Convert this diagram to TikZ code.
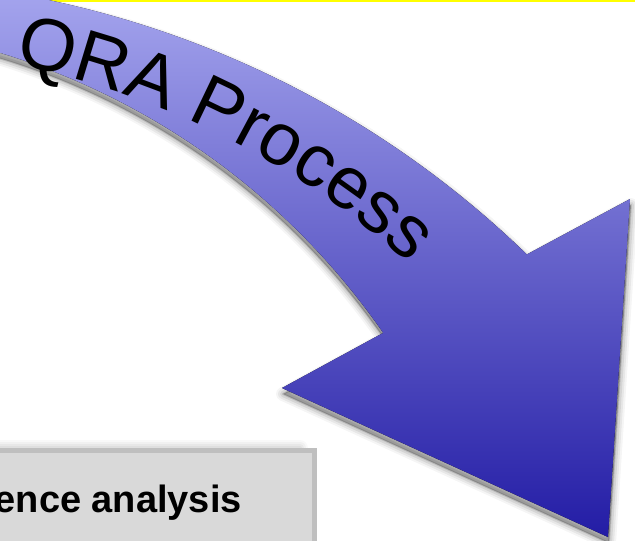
\documentclass[tikz,border=0pt]{standalone}
\usepackage{fontspec}
\setmainfont{Liberation Sans}
\newfontfamily\lsans{Liberation Sans}
\usetikzlibrary{decorations.text}
\newcommand\qraf{\lsans\fontsize{74}{80}\selectfont}
\definecolor{arrtop}{RGB}{165,165,238}
\definecolor{arrmid}{RGB}{116,116,208}
\definecolor{arrbot}{RGB}{35,28,165}
\definecolor{boxfill}{RGB}{217,217,217}
\definecolor{boxline}{RGB}{191,191,191}
\definecolor{topline}{RGB}{255,255,0}
\tikzset{
  arrowfill/.style={top color=arrtop, middle color=arrmid, bottom color=arrbot},
  softshadow/.style={fill=black, draw=black, fill opacity=#1, draw opacity=#1, line join=round},
  boxstyle/.style={draw=boxline, line width=5pt, fill=boxfill},
  boxtext/.style={anchor=base west, inner sep=0pt, font=\bfseries\fontsize{38}{40}\selectfont}
}
\begin{document}
\begin{tikzpicture}[x=1pt,y=-1pt]
\useasboundingbox (0,0) rectangle (635,541);
\clip (0,0) rectangle (635,541);
\def\arrowpath{plot[domain=-81.6:-45.9,samples=70] ({-153+977*cos(\x)},{956+977*sin(\x)}) -- (630,199) -- (608,537) -- (282,388) -- plot[domain=-73.8:-34.7,samples=70] ({-212+724*cos(-108.5-\x)},{745+724*sin(-108.5-\x)}) -- cycle}
% yellow line at the top
\fill[topline] (0,0) rectangle (635,1.6);
% box shadow
\foreach \ww/\oo in {16/0.025,12/0.03,8/0.035,4/0.04}{
  \fill[softshadow=\oo, line width=\ww pt] (-20,448) rectangle (300,560);
}
% box
\draw[boxstyle] (-10,450.5) rectangle (314.5,560);
\node[boxtext] (analysis) at (-5.5,512) {ence analysis};
% arrow shadow
\foreach \ww/\oo in {14/0.04,10/0.06,6/0.08,2/0.12}{
  \fill[softshadow=\oo, line width=\ww pt, shift={(1,6)}] \arrowpath;
}
% arrow
\fill[arrowfill] \arrowpath;
% text along the arrow
\path[decorate, decoration={text along path, text={|\qraf|QRA Process}, text align={left indent=0pt}}]
  plot[domain=-78.6:-44,samples=60] ({-150+832*cos(\x)},{880+832*sin(\x)});
\end{tikzpicture}
\end{document}
